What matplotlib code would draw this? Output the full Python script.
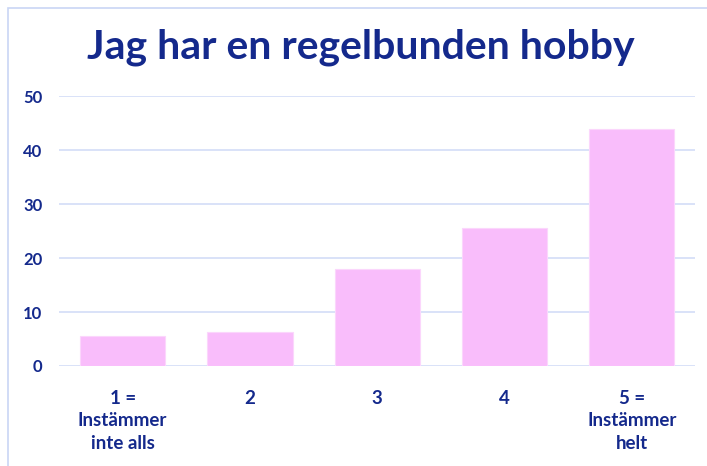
import matplotlib.pyplot as plt
from matplotlib.patches import Rectangle

# Data
categories = ['1 =\nInstämmer\ninte alls', '2', '3', '4', '5 =\nInstämmer\nhelt']
values = [5.6, 6.3, 18.0, 25.5, 44.0]
yticks = [0, 10, 20, 30, 40, 50]

text_color = '#14298c'
bar_color = '#f9bdfb'
grid_color = '#d3ddf7'

plt.rcParams['font.family'] = ['Lato', 'DejaVu Sans']

fig = plt.figure(figsize=(7.07, 4.66), dpi=100)
ax = fig.add_axes([0.0835, 0.2146, 0.90, 0.579])

x = list(range(len(categories)))
ax.bar(x, values, width=0.67, color=bar_color, edgecolor='#fbd6fc', linewidth=0.8, zorder=3)

ax.set_xlim(-0.5, len(categories) - 0.5)
ax.set_ylim(0, 50)
ax.set_yticks(yticks)
ax.set_xticks(x)
ax.set_xticklabels(categories, fontsize=13.5, fontweight='bold', color=text_color, linespacing=1.4)
ax.set_yticklabels([str(t) for t in yticks], fontsize=12, fontweight='bold', color=text_color)
ax.tick_params(axis='both', length=0)
ax.tick_params(axis='y', pad=12)
ax.tick_params(axis='x', pad=17)

ax.grid(axis='y', color=grid_color, linewidth=1.2, zorder=0)
for s in ax.spines.values():
    s.set_visible(False)

fig.text(0.51, 0.898, 'Jag har en regelbunden hobby', ha='center', va='center',
         fontsize=29.5, fontweight='bold', color=text_color)

# light chart border
fig.patches.append(Rectangle((8 / 707, -0.01), 1.0, 1.0 - 8 / 466 + 0.01, transform=fig.transFigure,
                             fill=False, edgecolor='#c9d6f5', linewidth=1.2))

fig.savefig('out.png', dpi=100)
